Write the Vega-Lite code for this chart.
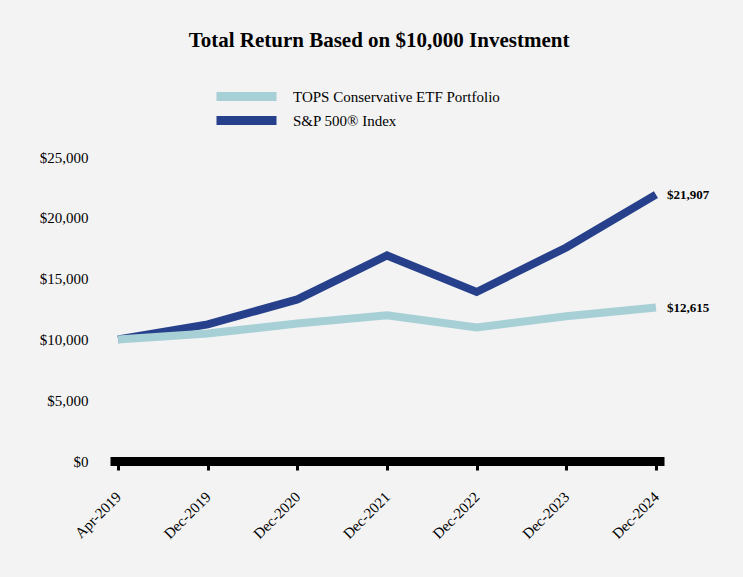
{
  "$schema": "https://vega.github.io/schema/vega-lite/v6.json",
  "width": 554,
  "height": 304,
  "autosize": "none",
  "padding": {"left": 110, "top": 157, "right": 79, "bottom": 116},
  "background": "#f3f3f3",
  "title": {
    "text": "Total Return Based on $10,000 Investment",
    "font": "Liberation Serif",
    "fontSize": 21,
    "fontWeight": "bold",
    "color": "#000000",
    "anchor": "middle",
    "offset": 36,
    "dx": -8
  },
  "config": {
    "view": {"stroke": null},
    "font": "Liberation Serif",
    "legend": {
      "title": null,
      "orient": "none",
      "symbolType": "M-6,0H6",
      "symbolSize": 100,
      "symbolStrokeWidth": 9,
      "labelFont": "Liberation Serif",
      "labelFontSize": 15,
      "labelColor": "#000000",
      "labelLimit": 400,
      "labelOffset": 37,
      "padding": 0
    }
  },
  "data": {
    "values": [
      {"date": "Apr-2019", "series": "TOPS Conservative ETF Portfolio", "value": 10000},
      {"date": "Dec-2019", "series": "TOPS Conservative ETF Portfolio", "value": 10490},
      {"date": "Dec-2020", "series": "TOPS Conservative ETF Portfolio", "value": 11300},
      {"date": "Dec-2021", "series": "TOPS Conservative ETF Portfolio", "value": 11980},
      {"date": "Dec-2022", "series": "TOPS Conservative ETF Portfolio", "value": 10980},
      {"date": "Dec-2023", "series": "TOPS Conservative ETF Portfolio", "value": 11900},
      {"date": "Dec-2024", "series": "TOPS Conservative ETF Portfolio", "value": 12615},
      {"date": "Apr-2019", "series": "S&P 500® Index", "value": 10000},
      {"date": "Dec-2019", "series": "S&P 500® Index", "value": 11230},
      {"date": "Dec-2020", "series": "S&P 500® Index", "value": 13290},
      {"date": "Dec-2021", "series": "S&P 500® Index", "value": 16900},
      {"date": "Dec-2022", "series": "S&P 500® Index", "value": 13900},
      {"date": "Dec-2023", "series": "S&P 500® Index", "value": 17560},
      {"date": "Dec-2024", "series": "S&P 500® Index", "value": 21907}
    ]
  },
  "encoding": {
    "x": {
      "field": "date",
      "type": "ordinal",
      "sort": null,
      "scale": {"type": "point", "padding": 0.09},
      "axis": {
        "title": null,
        "domainColor": "#000000",
        "domainWidth": 9,
        "tickColor": "#000000",
        "tickWidth": 3,
        "tickSize": 9,
        "labelAngle": 315,
        "labelAlign": "right",
        "labelBaseline": "middle",
        "labelPadding": 24,
        "labelFont": "Liberation Serif",
        "labelFontSize": 15,
        "labelColor": "#000000"
      }
    },
    "y": {
      "field": "value",
      "type": "quantitative",
      "scale": {"domain": [0, 25000]},
      "axis": {
        "title": null,
        "values": [0, 5000, 10000, 15000, 20000, 25000],
        "format": "$,.0f",
        "domain": false,
        "ticks": false,
        "grid": false,
        "labelPadding": 22,
        "labelFont": "Liberation Serif",
        "labelFontSize": 15,
        "labelColor": "#000000"
      }
    }
  },
  "layer": [
    {
      "transform": [{"filter": "datum.series === 'S&P 500® Index'"}],
      "mark": {"type": "line", "strokeWidth": 8},
      "encoding": {
        "color": {
          "field": "series",
          "type": "nominal",
          "scale": {"domain": ["S&P 500® Index"], "range": ["#26408b"]},
          "legend": {"legendX": 127, "legendY": -46}
        }
      }
    },
    {
      "transform": [{"filter": "datum.series === 'TOPS Conservative ETF Portfolio'"}],
      "mark": {"type": "line", "strokeWidth": 8},
      "encoding": {
        "color": {
          "field": "series",
          "type": "nominal",
          "scale": {"domain": ["TOPS Conservative ETF Portfolio"], "range": ["#a7d0d6"]},
          "legend": {"legendX": 127, "legendY": -70}
        }
      }
    },
    {
      "transform": [{"filter": "datum.date === 'Dec-2024'"}],
      "mark": {"type": "text", "align": "left", "dx": 11, "font": "Liberation Serif", "fontSize": 13, "fontWeight": "bold", "color": "#000000"},
      "encoding": {
        "text": {"field": "value", "type": "quantitative", "format": "$,.0f"}
      }
    }
  ],
  "resolve": {"scale": {"color": "independent"}, "legend": {"color": "independent"}}
}
